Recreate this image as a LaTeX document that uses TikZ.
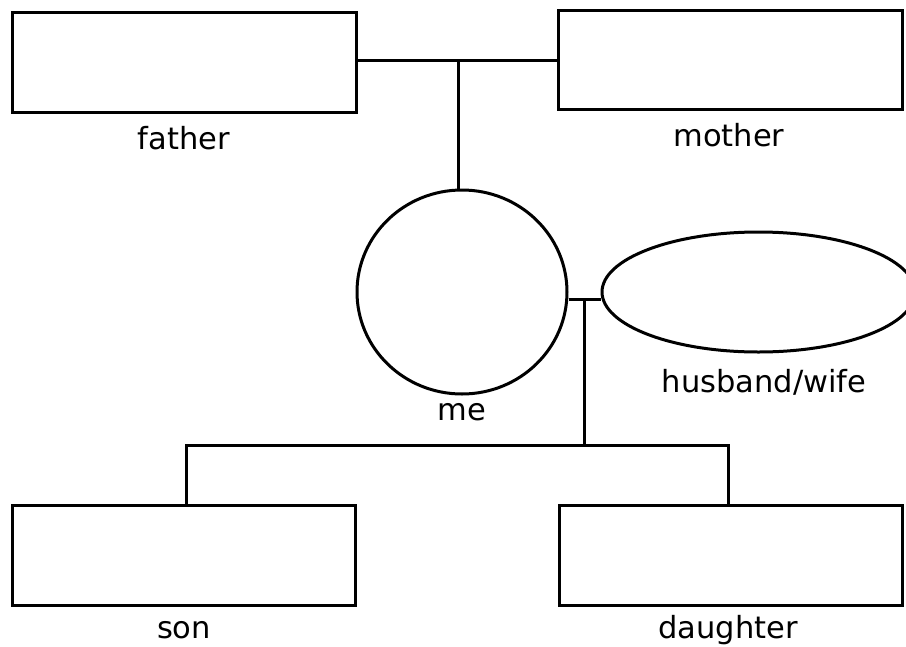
\documentclass[tikz,border=0pt]{standalone}
\usepackage{fontspec}
\setmainfont{DejaVu Sans}
\usetikzlibrary{shapes.geometric}
\begin{document}
\begin{tikzpicture}[x=1pt,y=-1pt,
  box/.style={draw,line width=3pt,rectangle,inner sep=0pt,minimum width=344pt,minimum height=100pt},
  oval/.style={draw,line width=3pt,ellipse,inner sep=0pt},
  lbl/.style={anchor=base,inner sep=0pt,font=\fontsize{30.5}{36}\selectfont},
  link/.style={line width=3pt}]
\useasboundingbox (0,0) rectangle (906,646);
\node[box] (father) at (184,62) {};
\node[box,minimum height=99pt] (mother) at (730,59.5) {};
\node[oval,minimum width=210pt,minimum height=204pt] (me) at (462,292) {};
\node[oval,minimum width=313pt,minimum height=120pt] (spouse) at (758.5,292) {};
\node[box,minimum width=343pt] (son) at (183.5,555) {};
\node[box,minimum width=343pt] (daughter) at (730.5,555) {};
\node[lbl] (lfather) at (184,149) {father};
\node[lbl] (lmother) at (729,146) {mother};
\node[lbl] (lme) at (462,420) {me};
\node[lbl] (lspouse) at (764,392) {husband/wife};
\node[lbl] (lson) at (184,638) {son};
\node[lbl] (ldaughter) at (728,638) {daughter};
\coordinate (top) at (458,60);
\coordinate (mj) at (584,299);
\coordinate (kj) at (584,445);
\coordinate (bl) at (186,445);
\coordinate (br) at (728,445);
\draw[link] (father.east |- top) -- (mother.west |- top);
\draw[link] (top) -- (top |- me.north);
\draw[link] (me.east |- mj) -- (spouse.west |- mj);
\draw[link] (mj) -- (kj);
\draw[link] (bl |- son.north) -- (bl) -- (br) -- (br |- daughter.north);
\end{tikzpicture}
\end{document}
